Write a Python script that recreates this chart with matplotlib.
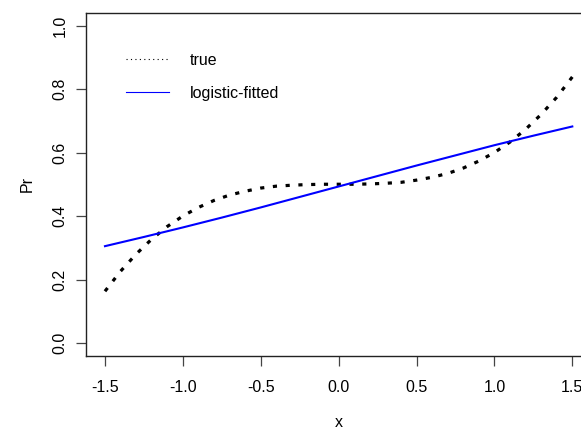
import matplotlib
matplotlib.use("Agg")
import matplotlib.pyplot as plt
import numpy as np

# true probability curve
x_true = [-1.5, -1.4, -1.3, -1.2, -1.1, -1.0, -0.9, -0.8, -0.7, -0.6, -0.5,
          -0.4, -0.3, -0.2, -0.1, 0.0, 0.1, 0.2, 0.3, 0.4, 0.5,
          0.6, 0.7, 0.8, 0.9, 1.0, 1.1, 1.2, 1.3, 1.4, 1.5]
pr_true = [0.163, 0.226, 0.280, 0.327, 0.367, 0.400, 0.427, 0.449, 0.466, 0.478, 0.488,
           0.494, 0.497, 0.499, 0.500, 0.500, 0.500, 0.501, 0.503, 0.506, 0.513,
           0.522, 0.534, 0.551, 0.573, 0.600, 0.633, 0.673, 0.720, 0.774, 0.838]

# logistic fit
x_fit = [-1.5, -1.25, -1.0, -0.75, -0.5, -0.25, 0.0, 0.25, 0.5, 0.75, 1.0, 1.25, 1.5]
pr_fit = [0.305, 0.334, 0.364, 0.395, 0.427, 0.460, 0.493, 0.526, 0.559, 0.591, 0.623, 0.653, 0.682]

xticks = [-1.5, -1.0, -0.5, 0.0, 0.5, 1.0, 1.5]
yticks = [0.0, 0.2, 0.4, 0.6, 0.8, 1.0]

plt.rcParams['font.family'] = ['Liberation Sans', 'DejaVu Sans']
fs = 11.5

fig = plt.figure(figsize=(5.81, 4.30), dpi=100)
ax = fig.add_axes([0.1485, 0.1728, 0.8687, 0.7974])

ax.plot(x_true, pr_true, color='black', lw=2.3, linestyle=(0, (1.3, 2.7)),
        dash_capstyle='butt')
ax.plot(x_fit, pr_fit, color='blue', lw=1.5)

ax.set_xlim(-1.62, 1.62)
ax.set_ylim(-0.04, 1.04)
ax.set_xticks(xticks)
ax.set_xticklabels([f"{t:.1f}" for t in xticks])
ax.set_yticks(yticks)
ax.set_yticklabels([f"{t:.1f}" for t in yticks], rotation=90, va='center')

for s in ax.spines.values():
    s.set_linewidth(1.0)
    s.set_color('#222222')
ax.tick_params(length=7, width=0.9, color='#444444', labelsize=fs)
ax.tick_params(axis='x', pad=10.5)
ax.tick_params(axis='y', pad=6.5)

ax.set_xlabel("x", fontsize=fs, labelpad=14.5)
ax.set_ylabel("Pr", fontsize=fs, labelpad=13)

# legend handles are drawn with default line width
h1, = ax.plot([], [], color='black', lw=0.8, linestyle=(0, (1, 3)))
h2, = ax.plot([], [], color='blue', lw=0.8)
ax.legend([h1, h2], ["true", "logistic-fitted"], loc='upper left',
          bbox_to_anchor=(126 / 581, 1 - 53 / 430), bbox_transform=fig.transFigure,
          frameon=False, fontsize=fs, handlelength=2.7, handletextpad=1.3,
          labelspacing=1.12, borderpad=0, borderaxespad=0)

fig.savefig("out.png", dpi=100)
